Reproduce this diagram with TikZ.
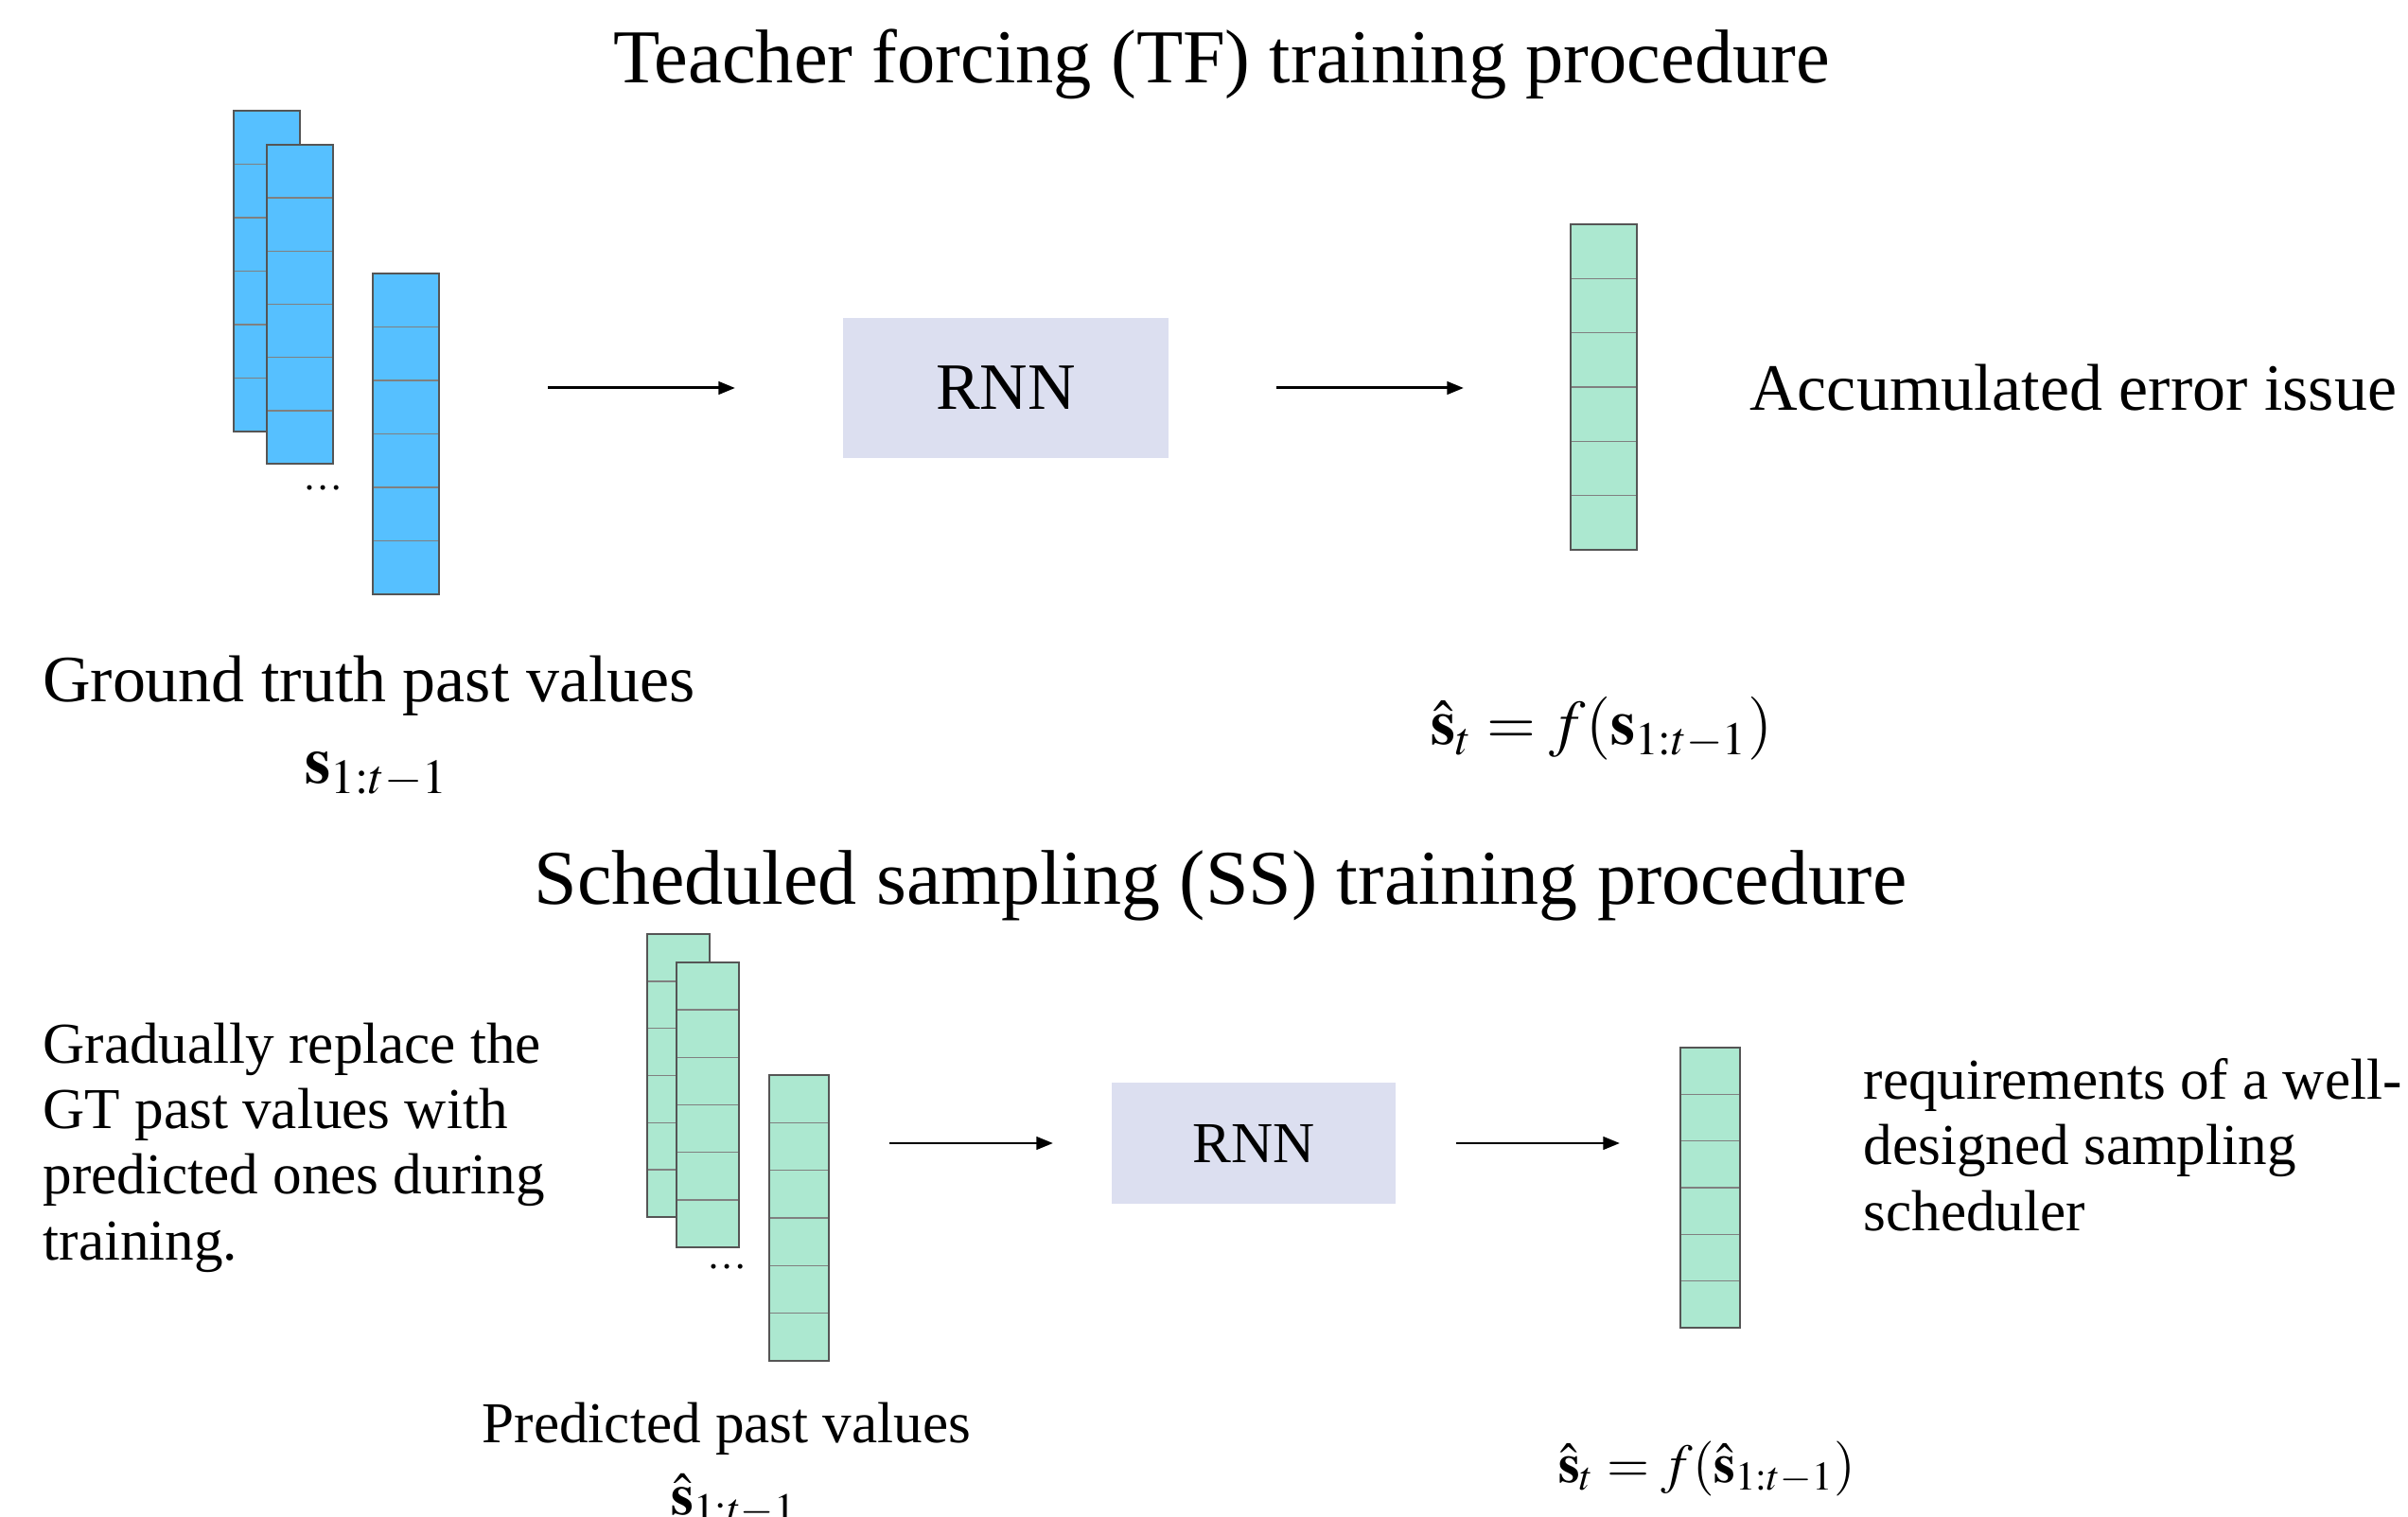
\documentclass[tikz,border=0pt]{standalone}
\usepackage{mathptmx}
\usepackage{fontspec}
\setmainfont{Liberation Serif}
\usetikzlibrary{arrows.meta,positioning,calc}

\definecolor{gtblue}{RGB}{86,192,255}
\definecolor{predgreen}{RGB}{172,232,208}
\definecolor{rnnfill}{RGB}{220,223,240}
\definecolor{edgegray}{RGB}{85,85,85}
\definecolor{cellgray}{RGB}{128,128,128}

\begin{document}
\begin{tikzpicture}[
  >={Triangle[length=5pt,width=3.8pt]},
  vec/.style={
    rectangle, draw=edgegray, line width=0.55pt, inner sep=0pt, outer sep=0pt,
    anchor=north west, minimum width=0.70cm, minimum height=3.40cm,
    path picture={
      \foreach \k in {1,...,5}
        \draw[cellgray, line width=0.45pt]
          ($(path picture bounding box.north west)!\k/6!(path picture bounding box.south west)$) --
          ($(path picture bounding box.north east)!\k/6!(path picture bounding box.south east)$);
    }
  },
  rnn/.style={rectangle, fill=rnnfill, inner sep=0pt, outer sep=0pt},
  flow/.style={->, line width=0.85pt},
  ttl/.style={font=\fontsize{22.9}{27}\selectfont, anchor=base},
  big/.style={font=\fontsize{19.9}{24}\selectfont},
  small/.style={font=\fontsize{17.4}{19.64}\selectfont},
  dots/.style={font=\fontsize{12}{12}\selectfont, anchor=base}
]
\useasboundingbox (0,0) rectangle (25.45,-16.03);

% -- Teacher forcing --
\node[ttl] (tfTitle) at (12.91,-0.88) {Teacher forcing (TF) training procedure};

% ground truth input vectors
\node[vec, fill=gtblue, minimum height=3.39cm] (gtA) at (2.47,-1.17) {};
\node[vec, fill=gtblue, minimum height=3.37cm] (gtB) at (2.82,-1.53) {};
\node[vec, fill=gtblue, minimum height=3.39cm] (gtC) at (3.94,-2.89) {};
\node[dots] (gtDots) at (3.42,-5.18) {\dots};

\node[rnn, big, minimum width=3.44cm, minimum height=1.48cm] (rnnA) at (10.63,-4.10) {RNN};

% prediction
\node[vec, fill=predgreen, minimum height=3.44cm] (prA) at (16.60,-2.37) {};

\node[big, anchor=base west] (accErr) at (18.37,-4.34) {Accumulated error issue};
\node[big, anchor=base] (gtLbl) at (3.90,-7.42) {Ground truth past values};
\node[big, anchor=base] (gtSym) at (3.98,-8.28) {$\mathbf{s}_{1:t-1}$};
\node[font=\fontsize{19}{23}\selectfont, anchor=base] (tfEq) at (16.93,-7.87)
  {$\hat{\mathbf{s}}_t = f(\mathbf{s}_{1:t-1})$};

\draw[flow] ($(gtC.east |- rnnA.west)+(1.15,0)$) -- ($(rnnA.west)+(-1.14,0)$);
\draw[flow] ($(rnnA.east)+(1.14,0)$) -- ($(prA.west |- rnnA.east)+(-1.13,0)$);

% -- Scheduled sampling --
\node[ttl, font=\fontsize{23.3}{27}\selectfont] (ssTitle) at (12.90,-9.56)
  {Scheduled sampling (SS) training procedure};

% base of a multi-line node sits on its last line
\node[small, anchor=base west, align=left, inner sep=0pt] (ssNote) at (0.45,-13.31)
  {Gradually replace the\\GT past values with\\predicted ones during\\training.};

% predicted input vectors
\node[vec, fill=predgreen, minimum width=0.66cm, minimum height=2.99cm] (psA) at (6.84,-9.87) {};
\node[vec, fill=predgreen, minimum width=0.66cm, minimum height=3.01cm] (psB) at (7.15,-10.17) {};
\node[vec, fill=predgreen, minimum width=0.63cm, minimum height=3.02cm] (psC) at (8.13,-11.36) {};
\node[dots] (psDots) at (7.69,-13.40) {\dots};

\node[rnn, small, minimum width=3.00cm, minimum height=1.28cm] (rnnB) at (13.25,-12.08) {RNN};

\node[vec, fill=predgreen, minimum width=0.63cm, minimum height=2.96cm] (prB) at (17.76,-11.07) {};

\node[small, anchor=base west, align=left, inner sep=0pt] (ssReq) at (19.69,-13.00)
  {requirements of a well-\\designed sampling\\scheduler};
\node[small, anchor=base] (psLbl) at (7.68,-15.24) {Predicted past values};
\node[small, anchor=base] (psSym) at (7.76,-16.00) {$\hat{\mathbf{s}}_{1:t-1}$};
\node[font=\fontsize{16.5}{19}\selectfont, anchor=base] (ssEq) at (18.04,-15.66)
  {$\hat{\mathbf{s}}_t = f(\hat{\mathbf{s}}_{1:t-1})$};

\draw[flow] ($(psC.east |- rnnB.west)+(0.64,0)$) -- ($(rnnB.west)+(-0.62,0)$);
\draw[flow] ($(rnnB.east)+(0.64,0)$) -- ($(prB.west |- rnnB.east)+(-0.64,0)$);

\end{tikzpicture}
\end{document}
